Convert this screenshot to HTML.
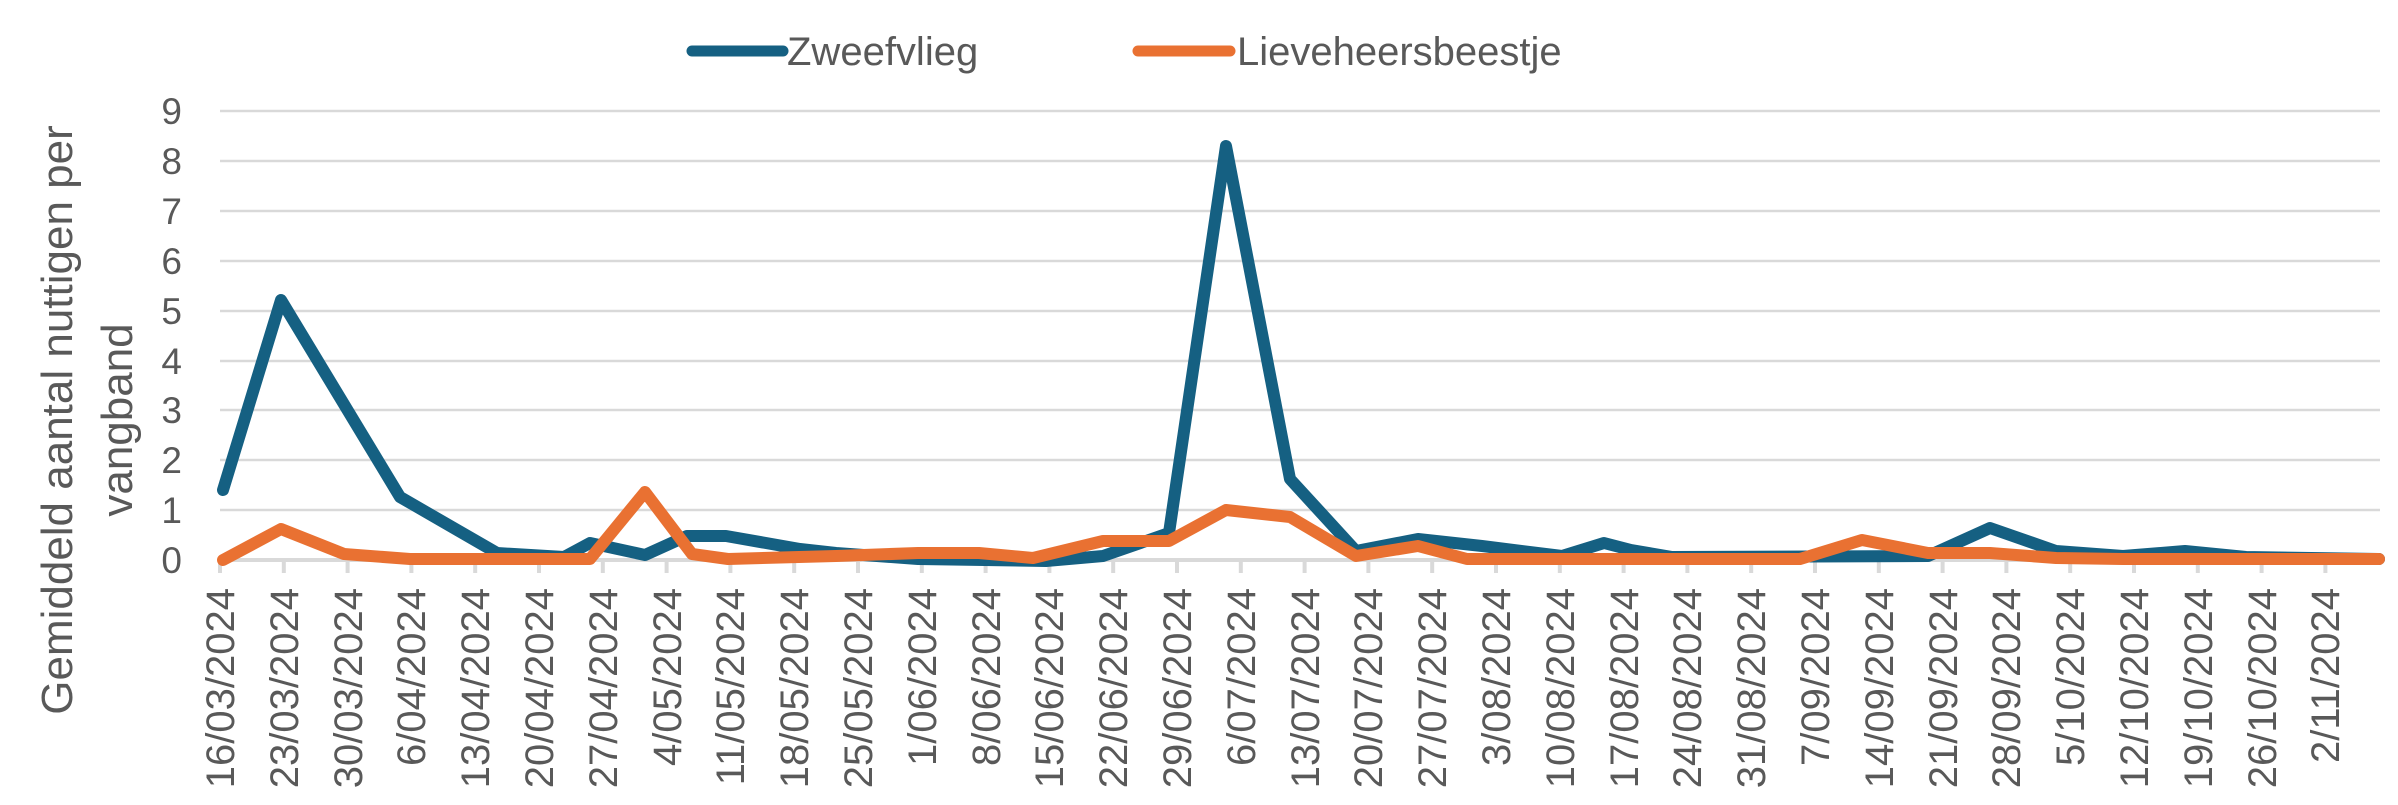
<!DOCTYPE html>
<html><head><meta charset="utf-8"><style>
html,body{margin:0;padding:0;background:#fff;}
svg{display:block;font-family:"Liberation Sans",sans-serif;}
</style></head><body>
<svg width="2398" height="805" viewBox="0 0 2398 805" xmlns="http://www.w3.org/2000/svg">
<g stroke="#d9d9d9" stroke-width="2.5">
<line x1="220" y1="111" x2="2380" y2="111"/>
<line x1="220" y1="161" x2="2380" y2="161"/>
<line x1="220" y1="211" x2="2380" y2="211"/>
<line x1="220" y1="261" x2="2380" y2="261"/>
<line x1="220" y1="311" x2="2380" y2="311"/>
<line x1="220" y1="361" x2="2380" y2="361"/>
<line x1="220" y1="410" x2="2380" y2="410"/>
<line x1="220" y1="460" x2="2380" y2="460"/>
<line x1="220" y1="510" x2="2380" y2="510"/>
<line x1="220" y1="560" x2="2380" y2="560" stroke-width="4"/>
</g>
<g stroke="#d9d9d9" stroke-width="4">
<path d="M220 560v13M283.8 560v13M347.6 560v13M411.4 560v13M475.2 560v13M539 560v13M602.8 560v13M666.6 560v13M730.4 560v13M794.2 560v13M858 560v13M921.8 560v13M985.6 560v13M1049.4 560v13M1113.2 560v13M1177 560v13M1240.8 560v13M1304.6 560v13M1368.4 560v13M1432.2 560v13M1496 560v13M1559.8 560v13M1623.6 560v13M1687.4 560v13M1751.2 560v13M1815 560v13M1878.8 560v13M1942.6 560v13M2006.4 560v13M2070.2 560v13M2134 560v13M2197.8 560v13M2261.6 560v13M2325.4 560v13"/>
</g>
<g fill="#595959" font-size="37" text-anchor="end">
<text x="182" y="124">9</text><text x="182" y="174">8</text><text x="182" y="224">7</text>
<text x="182" y="274">6</text><text x="182" y="324">5</text><text x="182" y="374">4</text>
<text x="182" y="423">3</text><text x="182" y="473">2</text><text x="182" y="523">1</text>
<text x="182" y="573">0</text>
</g>
<g fill="#595959" font-size="44" text-anchor="middle">
<text transform="translate(72,420) rotate(-90)">Gemiddeld aantal nuttigen per</text>
<text transform="translate(132,420) rotate(-90)">vangband</text>
</g>
<g fill="#595959" font-size="40" text-anchor="end">
<text transform="translate(234,588) rotate(-90)">16/03/2024</text>
<text transform="translate(298,588) rotate(-90)">23/03/2024</text>
<text transform="translate(362,588) rotate(-90)">30/03/2024</text>
<text transform="translate(425,588) rotate(-90)">6/04/2024</text>
<text transform="translate(489,588) rotate(-90)">13/04/2024</text>
<text transform="translate(553,588) rotate(-90)">20/04/2024</text>
<text transform="translate(617,588) rotate(-90)">27/04/2024</text>
<text transform="translate(681,588) rotate(-90)">4/05/2024</text>
<text transform="translate(744,588) rotate(-90)">11/05/2024</text>
<text transform="translate(808,588) rotate(-90)">18/05/2024</text>
<text transform="translate(872,588) rotate(-90)">25/05/2024</text>
<text transform="translate(936,588) rotate(-90)">1/06/2024</text>
<text transform="translate(1000,588) rotate(-90)">8/06/2024</text>
<text transform="translate(1063,588) rotate(-90)">15/06/2024</text>
<text transform="translate(1127,588) rotate(-90)">22/06/2024</text>
<text transform="translate(1191,588) rotate(-90)">29/06/2024</text>
<text transform="translate(1255,588) rotate(-90)">6/07/2024</text>
<text transform="translate(1319,588) rotate(-90)">13/07/2024</text>
<text transform="translate(1382,588) rotate(-90)">20/07/2024</text>
<text transform="translate(1446,588) rotate(-90)">27/07/2024</text>
<text transform="translate(1510,588) rotate(-90)">3/08/2024</text>
<text transform="translate(1574,588) rotate(-90)">10/08/2024</text>
<text transform="translate(1638,588) rotate(-90)">17/08/2024</text>
<text transform="translate(1701,588) rotate(-90)">24/08/2024</text>
<text transform="translate(1765,588) rotate(-90)">31/08/2024</text>
<text transform="translate(1829,588) rotate(-90)">7/09/2024</text>
<text transform="translate(1893,588) rotate(-90)">14/09/2024</text>
<text transform="translate(1957,588) rotate(-90)">21/09/2024</text>
<text transform="translate(2020,588) rotate(-90)">28/09/2024</text>
<text transform="translate(2084,588) rotate(-90)">5/10/2024</text>
<text transform="translate(2148,588) rotate(-90)">12/10/2024</text>
<text transform="translate(2212,588) rotate(-90)">19/10/2024</text>
<text transform="translate(2276,588) rotate(-90)">26/10/2024</text>
<text transform="translate(2339,588) rotate(-90)">2/11/2024</text>
</g>
<polyline fill="none" stroke="#156082" stroke-width="12" stroke-linejoin="round" stroke-linecap="round"
points="223,490 281,300 400,497 497,553 564,557 590,543 645,555 687,536 726,536 800,549 836,553 918,559 1046,561 1103,556 1169,533 1226,146 1290,479 1356,551 1418,539 1482,546 1562,556 1604,543 1631,550 1672,557 1928,556 1990,528 2056,551 2123,556 2185,551 2246,557 2379,559"/>
<polyline fill="none" stroke="#e97132" stroke-width="12" stroke-linejoin="round" stroke-linecap="round"
points="223,560 281,529 344,554 410,559 590,559 645,492 692,554 728,559 836,556 918,553 979,553 1033,558 1103,541 1169,541 1226,510 1290,517 1356,556 1418,546 1467,559 1800,559 1862,540 1928,553 1990,553 2056,558 2123,559 2379,559"/>
<line x1="692" y1="51" x2="783" y2="51" stroke="#156082" stroke-width="11" stroke-linecap="round"/>
<text x="787" y="65" fill="#595959" font-size="40">Zweefvlieg</text>
<line x1="1138" y1="51" x2="1230" y2="51" stroke="#e97132" stroke-width="11" stroke-linecap="round"/>
<text x="1237" y="65" fill="#595959" font-size="40">Lieveheersbeestje</text>
</svg>
</body></html>
